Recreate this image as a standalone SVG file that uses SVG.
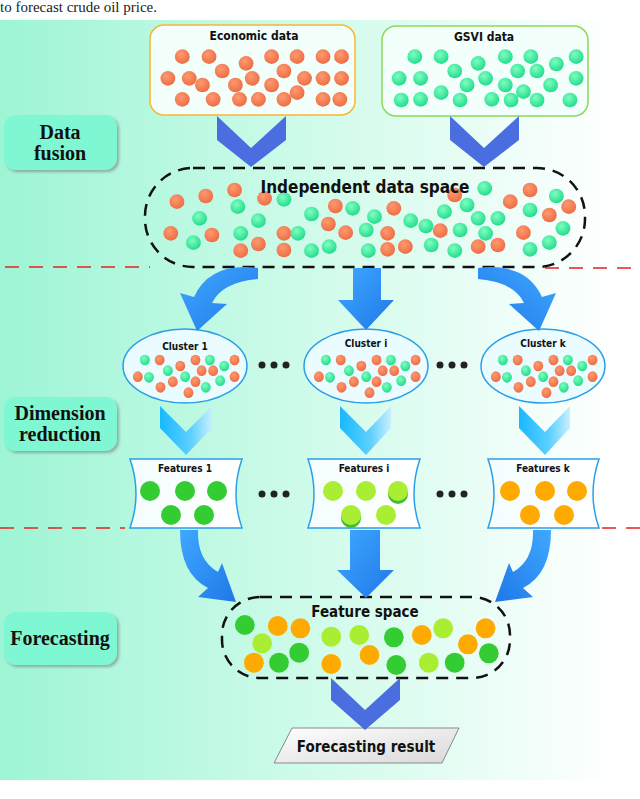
<svg xmlns="http://www.w3.org/2000/svg" xmlns:xlink="http://www.w3.org/1999/xlink" width="640" height="799" viewBox="0 0 640 799">
<defs>
<linearGradient id="bg" x1="0" x2="1" y1="0" y2="0"><stop offset="0" stop-color="#9ef5d6"/><stop offset="0.5" stop-color="#cffbea"/><stop offset="1" stop-color="#ffffff"/></linearGradient>
<radialGradient id="gO" cx="0.4" cy="0.35" r="0.7"><stop offset="0" stop-color="#ff9a70"/><stop offset="1" stop-color="#ec6a42"/></radialGradient>
<radialGradient id="gG" cx="0.4" cy="0.35" r="0.7"><stop offset="0" stop-color="#7dffc0"/><stop offset="1" stop-color="#1fd98a"/></radialGradient>
<linearGradient id="gBlue" x1="0" x2="1" y1="0" y2="1"><stop offset="0" stop-color="#3fa8ff"/><stop offset="1" stop-color="#1f78e8"/></linearGradient>
<linearGradient id="gLb" x1="0" x2="1"><stop offset="0" stop-color="#18b8ff"/><stop offset="0.6" stop-color="#5fd0ff"/><stop offset="1" stop-color="#c8f0ff"/></linearGradient>
<linearGradient id="gFeat" x1="0" x2="1"><stop offset="0" stop-color="#f4fdff"/><stop offset="1" stop-color="#ffffff"/></linearGradient>
<linearGradient id="gPar" x1="0" x2="1" y1="0" y2="1"><stop offset="0" stop-color="#ffffff"/><stop offset="1" stop-color="#d8d8d8"/></linearGradient>
<ellipse id="o" rx="18" ry="22" fill="url(#gO)"/>
<ellipse id="g" rx="18" ry="22" fill="url(#gG)"/>
<ellipse id="os" rx="12" ry="16" fill="url(#gO)"/>
<ellipse id="gs" rx="12" ry="16" fill="url(#gG)"/>
<ellipse id="F1" rx="24" ry="30" fill="#33cc33"/>
<ellipse id="F2" rx="24" ry="30" fill="#aaee33"/>
<ellipse id="F3" rx="24" ry="30" fill="#ffaa00"/>
<filter id="sh" x="-10%" y="-10%" width="130%" height="130%"><feDropShadow dx="2" dy="2" stdDeviation="1.5" flood-color="#777" flood-opacity="0.6"/></filter>
</defs>
<style>
.t{font-family:"DejaVu Sans Condensed","DejaVu Sans","Liberation Sans",sans-serif;font-weight:bold;font-stretch:condensed;fill:#111;text-anchor:middle}
.lab{font-family:"Liberation Serif","Times New Roman",serif;font-weight:bold;font-size:20px;fill:#111;text-anchor:middle}
.lbox{fill:#7ff7d2;filter:url(#sh)}
.red{stroke:#e82020;stroke-width:1.5;stroke-dasharray:14 10;fill:none}
.dash{fill:none;stroke:#111;stroke-width:2.5;stroke-dasharray:12 8}
.dots{fill:#222}
</style>
<rect x="0" y="0" width="640" height="799" fill="#ffffff"/>
<text x="0" y="12" font-family="Liberation Serif,serif" font-size="15" fill="#222">to forecast crude oil price.</text>
<rect x="0" y="20" width="618" height="760" fill="url(#bg)"/>

<g class="red"><line x1="5" y1="267" x2="150" y2="267"/><line x1="545" y1="268" x2="640" y2="268"/><line x1="0" y1="528" x2="125" y2="528"/><line x1="602" y1="528" x2="640" y2="528"/></g>

<g id="label-fusion"><rect class="lbox" x="4" y="115" width="113" height="55" rx="12"/><text class="lab" x="60" y="139">Data</text><text class="lab" x="60" y="160">fusion</text></g>
<g id="label-dim"><rect class="lbox" x="4" y="397" width="113" height="54" rx="12"/><text class="lab" x="60" y="420">Dimension</text><text class="lab" x="60" y="441">reduction</text></g>
<g id="label-fc"><rect class="lbox" x="4" y="612" width="113" height="53" rx="12"/><text class="lab" x="60" y="645">Forecasting</text></g>

<g id="economic"><rect x="150" y="25" width="205" height="90" rx="14" fill="#f2fffb" stroke="#f7b733" stroke-width="1.5"/><text class="t" x="254" y="40" font-size="12">Economic data</text>
<g transform="scale(0.4115,0.3333)"><use href="#o" x="443" y="170"/><use href="#o" x="508" y="170"/><use href="#o" x="598" y="190"/><use href="#o" x="660" y="170"/><use href="#o" x="722" y="170"/><use href="#o" x="785" y="170"/><use href="#o" x="830" y="170"/><use href="#o" x="540" y="213"/><use href="#o" x="690" y="213"/><use href="#o" x="408" y="235"/><use href="#o" x="460" y="235"/><use href="#o" x="492" y="255"/><use href="#o" x="572" y="255"/><use href="#o" x="613" y="235"/><use href="#o" x="660" y="255"/><use href="#o" x="740" y="235"/><use href="#o" x="785" y="235"/><use href="#o" x="830" y="235"/><use href="#o" x="443" y="298"/><use href="#o" x="518" y="298"/><use href="#o" x="582" y="298"/><use href="#o" x="628" y="298"/><use href="#o" x="690" y="298"/><use href="#o" x="722" y="278"/><use href="#o" x="785" y="298"/><use href="#o" x="826" y="298"/></g></g>

<g id="gsvi"><rect x="382" y="26" width="206" height="90" rx="14" fill="#f2fffb" stroke="#8fd85a" stroke-width="1.5"/><text class="t" x="484" y="41" font-size="12">GSVI data</text>
<g transform="scale(0.4115,0.3333)"><use href="#g" x="1008" y="170"/><use href="#g" x="1072" y="170"/><use href="#g" x="1162" y="190"/><use href="#g" x="1228" y="170"/><use href="#g" x="1290" y="170"/><use href="#g" x="1352" y="192"/><use href="#g" x="1400" y="170"/><use href="#g" x="1105" y="213"/><use href="#g" x="1258" y="213"/><use href="#g" x="1305" y="213"/><use href="#g" x="970" y="235"/><use href="#g" x="1022" y="235"/><use href="#g" x="1135" y="255"/><use href="#g" x="1180" y="235"/><use href="#g" x="1228" y="255"/><use href="#g" x="1338" y="255"/><use href="#g" x="1400" y="235"/><use href="#g" x="1272" y="275"/><use href="#g" x="975" y="300"/><use href="#g" x="1022" y="298"/><use href="#g" x="1072" y="278"/><use href="#g" x="1118" y="300"/><use href="#g" x="1195" y="298"/><use href="#g" x="1242" y="300"/><use href="#g" x="1305" y="300"/><use href="#g" x="1385" y="300"/></g></g>

<g id="independent"><rect x="145" y="168" width="440" height="99" rx="48" class="dash"/>
<g transform="scale(0.4115,0.3333)"><use href="#o" x="430" y="605"/><use href="#o" x="500" y="588"/><use href="#o" x="570" y="570"/><use href="#o" x="643" y="595"/><use href="#o" x="415" y="700"/><use href="#o" x="515" y="705"/><use href="#o" x="585" y="752"/><use href="#o" x="628" y="732"/><use href="#o" x="690" y="700"/><use href="#o" x="690" y="750"/><use href="#o" x="815" y="618"/><use href="#o" x="798" y="672"/><use href="#o" x="840" y="698"/><use href="#o" x="942" y="700"/><use href="#o" x="942" y="748"/><use href="#o" x="985" y="740"/><use href="#o" x="957" y="625"/><use href="#o" x="1105" y="585"/><use href="#o" x="1070" y="692"/><use href="#o" x="1240" y="605"/><use href="#o" x="1288" y="570"/><use href="#o" x="1335" y="645"/><use href="#o" x="1382" y="620"/><use href="#o" x="1272" y="698"/><use href="#o" x="1162" y="740"/><use href="#o" x="1210" y="735"/>
<use href="#g" x="578" y="620"/><use href="#g" x="690" y="598"/><use href="#g" x="485" y="655"/><use href="#g" x="628" y="662"/><use href="#g" x="585" y="700"/><use href="#g" x="470" y="728"/><use href="#g" x="724" y="700"/><use href="#g" x="757" y="642"/><use href="#g" x="757" y="752"/><use href="#g" x="800" y="740"/><use href="#g" x="857" y="625"/><use href="#g" x="910" y="650"/><use href="#g" x="890" y="690"/><use href="#g" x="895" y="752"/><use href="#g" x="998" y="662"/><use href="#g" x="1035" y="678"/><use href="#g" x="1080" y="635"/><use href="#g" x="1118" y="690"/><use href="#g" x="1135" y="615"/><use href="#g" x="1162" y="655"/><use href="#g" x="1210" y="655"/><use href="#g" x="1180" y="700"/><use href="#g" x="1048" y="735"/><use href="#g" x="1105" y="752"/><use href="#g" x="1178" y="565"/><use href="#g" x="1352" y="588"/><use href="#g" x="1288" y="630"/><use href="#g" x="1368" y="685"/><use href="#g" x="1288" y="748"/><use href="#g" x="1335" y="728"/></g>
<text class="t" x="365" y="193" font-size="17">Independent data space</text></g>

<g id="clusters">
<g id="cluster1"><ellipse cx="185" cy="366" rx="62" ry="37" fill="#eafcff" stroke="#2a9fe8" stroke-width="1.5"/><text class="t" x="185" y="350" font-size="10">Cluster 1</text></g>
<g id="clusteri"><ellipse cx="366" cy="366" rx="62" ry="37" fill="#eafcff" stroke="#2a9fe8" stroke-width="1.5"/><text class="t" x="366" y="347" font-size="10">Cluster i</text></g>
<g id="clusterk"><ellipse cx="543" cy="366" rx="62" ry="37" fill="#eafcff" stroke="#2a9fe8" stroke-width="1.5"/><text class="t" x="543" y="347" font-size="10">Cluster k</text></g>
<g transform="translate(0,280) scale(0.4115,0.3333)">
<g id="cd"><use href="#gs" x="352" y="240"/><use href="#gs" x="510" y="240"/><use href="#gs" x="545" y="258"/><use href="#gs" x="408" y="272"/><use href="#gs" x="362" y="292"/><use href="#gs" x="450" y="290"/><use href="#gs" x="500" y="322"/><use href="#gs" x="535" y="302"/><use href="#os" x="388" y="240"/><use href="#os" x="438" y="258"/><use href="#os" x="475" y="240"/><use href="#os" x="570" y="240"/><use href="#os" x="490" y="272"/><use href="#os" x="518" y="272"/><use href="#os" x="335" y="290"/><use href="#os" x="570" y="290"/><use href="#os" x="420" y="305"/><use href="#os" x="390" y="322"/><use href="#os" x="458" y="338"/><use href="#os" x="475" y="305"/></g>
<use href="#cd" x="440" y="0"/><use href="#cd" x="870" y="0"/></g>
<g class="dots"><circle cx="262" cy="365" r="3.5"/><circle cx="274" cy="365" r="3.5"/><circle cx="286" cy="365" r="3.5"/><circle cx="440" cy="365" r="3.5"/><circle cx="452" cy="365" r="3.5"/><circle cx="464" cy="365" r="3.5"/>
<circle cx="262" cy="494" r="3.5"/><circle cx="274" cy="494" r="3.5"/><circle cx="286" cy="494" r="3.5"/><circle cx="440" cy="494" r="3.5"/><circle cx="452" cy="494" r="3.5"/><circle cx="464" cy="494" r="3.5"/></g>
</g>

<g id="features">
<g id="feat1"><path d="M130,459 L242,459 Q230,494 242,528 L130,528 Q142,494 130,459 Z" fill="url(#gFeat)" stroke="#2a9fe8" stroke-width="1.5"/><text class="t" x="185" y="472" font-size="10">Features 1</text>
<circle cx="150" cy="491" r="10" fill="#33cc33"/><circle cx="185" cy="491" r="10" fill="#33cc33"/><circle cx="217" cy="491" r="10" fill="#33cc33"/><circle cx="171" cy="515" r="10" fill="#33cc33"/><circle cx="204" cy="515" r="10" fill="#33cc33"/></g>
<g id="feati"><path d="M308,459 L420,459 Q408,494 420,528 L308,528 Q320,494 308,459 Z" fill="url(#gFeat)" stroke="#2a9fe8" stroke-width="1.5"/><text class="t" x="364" y="472" font-size="10">Features i</text>
<circle cx="333" cy="491" r="10" fill="#aaee33"/><circle cx="366" cy="491" r="10" fill="#aaee33"/><circle cx="398" cy="494" r="10" fill="#44bb33"/><circle cx="398" cy="491" r="10" fill="#aaee33"/><circle cx="351" cy="518" r="10" fill="#44bb33"/><circle cx="351" cy="515" r="10" fill="#aaee33"/><circle cx="386" cy="515" r="10" fill="#aaee33"/></g>
<g id="featk"><path d="M488,459 L599,459 Q587,494 599,528 L488,528 Q500,494 488,459 Z" fill="url(#gFeat)" stroke="#2a9fe8" stroke-width="1.5"/><text class="t" x="543" y="472" font-size="10">Features k</text>
<circle cx="510" cy="491" r="10" fill="#ffaa00"/><circle cx="545" cy="491" r="10" fill="#ffaa00"/><circle cx="577" cy="491" r="10" fill="#ffaa00"/><circle cx="530" cy="515" r="10" fill="#ffaa00"/><circle cx="564" cy="515" r="10" fill="#ffaa00"/></g>
</g>

<g id="featurespace"><rect x="222" y="597" width="288" height="81" rx="38" class="dash"/><text class="t" x="365" y="617" font-size="15">Feature space</text>
<g transform="translate(0,530) scale(0.4115,0.3333)"><use href="#F1" x="595" y="285"/><use href="#F1" x="678" y="398"/><use href="#F1" x="727" y="368"/><use href="#F1" x="957" y="322"/><use href="#F1" x="963" y="405"/><use href="#F1" x="1105" y="398"/><use href="#F1" x="1188" y="370"/><use href="#F2" x="637" y="340"/><use href="#F2" x="805" y="320"/><use href="#F2" x="873" y="315"/><use href="#F2" x="1042" y="398"/><use href="#F2" x="1077" y="295"/><use href="#F3" x="675" y="288"/><use href="#F3" x="730" y="295"/><use href="#F3" x="617" y="398"/><use href="#F3" x="805" y="402"/><use href="#F3" x="898" y="375"/><use href="#F3" x="1025" y="315"/><use href="#F3" x="1137" y="343"/><use href="#F3" x="1180" y="295"/></g></g>

<g id="result"><polygon points="292,728 459,728 442,763 274,763" fill="url(#gPar)" stroke="#888" stroke-width="1"/><text class="t" x="366" y="752" font-size="15">Forecasting result</text></g>

<g id="connectors">
<polygon points="217,116 251,148 286,116 286,140 251,167 217,140" fill="#4a6ee0"/>
<polygon points="450,116 484,148 519,116 519,140 484,167 450,140" fill="#4a6ee0"/>
<polygon points="331,678 365,710 400,678 400,700 365,730 331,700" fill="#4a6ee0"/>
<polygon points="160,406 186,432 212,406 212,428 186,455 160,428" fill="url(#gLb)"/>
<polygon points="340,406 366,432 391,406 391,428 366,455 340,428" fill="url(#gLb)"/>
<polygon points="519,406 545,432 570,406 570,428 545,455 519,428" fill="url(#gLb)"/>
<g id="arrowTL"><path d="M258,268 Q210,262 194,297 L180,293 L197,331 L227,304 L212,303 Q222,282 258,279 Z" fill="url(#gBlue)"/></g>
<use href="#arrowTL" transform="translate(736,0) scale(-1,1)"/>
<polygon points="353,268 381,268 381,300 394,300 366,330 338,300 353,300" fill="url(#gBlue)"/>
<polygon points="350,530 380,530 380,570 394,570 366,598 337,570 350,570" fill="url(#gBlue)"/>
<g id="arrowBL"><path d="M180,530 L198,530 Q197,560 218,572 L222,563 L236,602 L198,597 L208,588 Q180,574 180,530 Z" fill="url(#gBlue)"/></g>
<use href="#arrowBL" transform="translate(731,0) scale(-1,1)"/>
</g>
</svg>
